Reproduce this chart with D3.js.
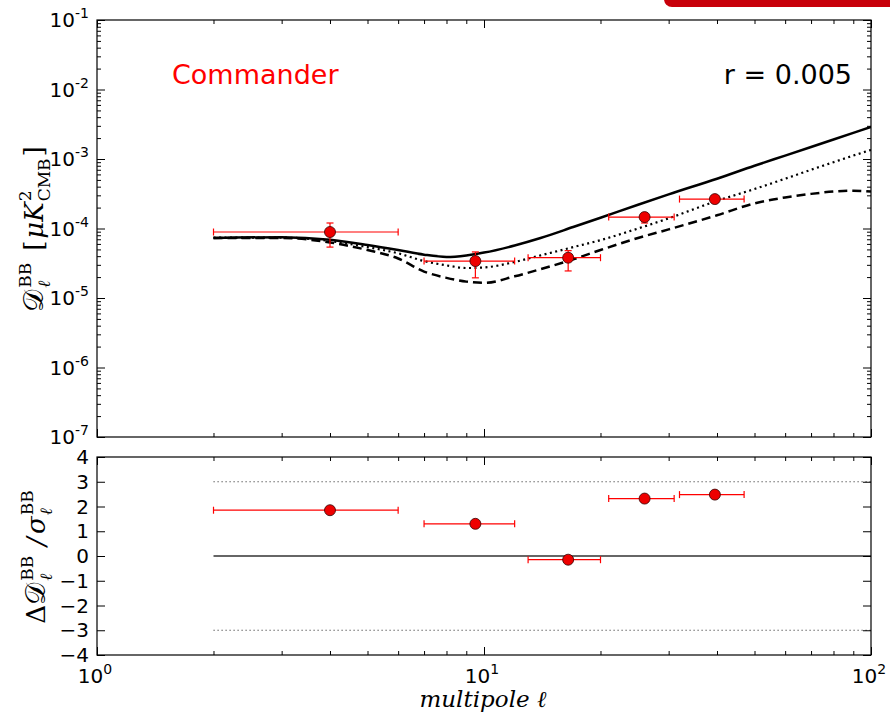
<!DOCTYPE html>
<html><head><meta charset="utf-8">
<script src="https://cdn.jsdelivr.net/npm/d3@7/dist/d3.min.js"></script>
<style>body{margin:0;background:#fff}svg{display:block}</style>
</head><body>
<svg id="chart" width="890" height="717"></svg>
<script>
// ---- data ----
const ells      = [2,3,4,5,6,7,8,9,10,12,14,17,20,25,30,40,50,60,70,80,90,100];
const totalBB   = [7.3e-5,7.5e-5,6.9e-5,5.8e-5,4.9e-5,4.2e-5,3.9e-5,4.1e-5,4.5e-5,5.7e-5,7.3e-5,1.05e-4,1.43e-4,2.2e-4,3.1e-4,5.2e-4,8.0e-4,1.12e-3,1.49e-3,1.91e-3,2.38e-3,2.9e-3];
const lensBB    = [7.4e-5,7.4e-5,6.6e-5,5.4e-5,4.4e-5,3.4e-5,2.95e-5,2.7e-5,2.75e-5,3.3e-5,4.1e-5,5.4e-5,6.8e-5,1.0e-4,1.4e-4,2.5e-4,3.7e-4,5.2e-4,7.0e-4,9.0e-4,1.12e-3,1.35e-3];
const tensorBB  = [7.3e-5,7.3e-5,6.3e-5,4.9e-5,3.7e-5,2.4e-5,1.95e-5,1.72e-5,1.65e-5,2.05e-5,2.6e-5,3.6e-5,4.9e-5,7.3e-5,9.7e-5,1.55e-4,2.3e-4,2.8e-4,3.15e-4,3.4e-4,3.5e-4,3.4e-4];
const binCenter = [4,9.5,16.5,26,39.5];
const binLo     = [2,7,13,21,32];
const binHi     = [6,12,20,31,47];
const dBB       = [8.9e-5,3.4e-5,3.8e-5,1.46e-4,2.65e-4];
const dBBlo     = [5.4e-5,1.95e-5,2.45e-5,1.2e-4,2.4e-4];
const dBBhi     = [1.2e-4,4.6e-5,4.8e-5,1.66e-4,2.9e-4];
const resid     = [1.85,1.3,-0.15,2.32,2.48];
const yMajor    = [1e-7,1e-6,1e-5,1e-4,1e-3,1e-2,1e-1];
const yMajorExp = ["-7","-6","-5","-4","-3","-2","-1"];
const xMajor    = [1,10,100];
const xMajorExp = ["0","1","2"];
const rTicks    = [-4,-3,-2,-1,0,1,2,3,4];

// ---- layout ----
const L=97, R=871, T1=20, B1=437, T2=457, B2=655;
const svg=d3.select("#chart");
const x=d3.scaleLog().domain([1,100]).range([L,R]);
const y1=d3.scaleLog().domain([1e-7,1e-1]).range([B1,T1]);
const y2=d3.scaleLinear().domain([-4,4]).range([B2,T2]);

// red bar artifact
svg.append("rect").attr("x",664).attr("y",-12).attr("width",250).attr("height",19).attr("rx",8).attr("fill","#c8000a");

const minorsLog=(a,b)=>{const m=[];for(let e=a;e<b;e++)for(let k=2;k<=9;k++)m.push(k*Math.pow(10,e));return m;};
const xMinor=minorsLog(0,2), yMinor=minorsLog(-7,-1);

function ticks(axisFn,scale,vals,size,tx,ty){
  svg.append("g").attr("transform",`translate(${tx},${ty})`)
    .call(axisFn(scale).tickValues(vals).tickSize(size).tickFormat(""))
    .call(g=>{g.select(".domain").remove();g.selectAll("line").attr("stroke","#000").attr("stroke-width",1);});
}
function panelTicks(ys,yMaj,yMin,top,bot){
  ticks(d3.axisBottom,x,xMajor,-8,0,bot); ticks(d3.axisBottom,x,xMinor,-4,0,bot);
  ticks(d3.axisTop,x,xMajor,-8,0,top); ticks(d3.axisTop,x,xMinor,-4,0,top);
  ticks(d3.axisLeft,ys,yMaj,-8,L,0); ticks(d3.axisRight,ys,yMaj,-8,R,0);
  if(yMin){ticks(d3.axisLeft,ys,yMin,-4,L,0); ticks(d3.axisRight,ys,yMin,-4,R,0);}
}

// ---- top panel ----
svg.append("clipPath").attr("id","c1").append("rect").attr("x",L).attr("y",T1).attr("width",R-L).attr("height",B1-T1);
const g1=svg.append("g").attr("clip-path","url(#c1)");
const line=d3.line().x((d,i)=>x(ells[i])).curve(d3.curveMonotoneX);
g1.append("path").attr("d",line.y(d=>y1(d))(totalBB)).attr("fill","none").attr("stroke","#000").attr("stroke-width",2.5);
g1.append("path").attr("d",line.y(d=>y1(d))(lensBB)).attr("fill","none").attr("stroke","#000").attr("stroke-width",2.2).attr("stroke-dasharray","2,3.5");
g1.append("path").attr("d",line.y(d=>y1(d))(tensorBB)).attr("fill","none").attr("stroke","#000").attr("stroke-width",2.5).attr("stroke-dasharray","9,5");

function errbars(g,ys,vals,lo,hi){
  const red="#ff0000";
  binCenter.forEach((c,i)=>{
    g.append("line").attr("x1",x(binLo[i])).attr("x2",x(binHi[i])).attr("y1",ys(vals[i])).attr("y2",ys(vals[i])).attr("stroke",red).attr("stroke-width",1.2);
    [binLo[i],binHi[i]].forEach(v=>g.append("line").attr("x1",x(v)).attr("x2",x(v)).attr("y1",ys(vals[i])-3.5).attr("y2",ys(vals[i])+3.5).attr("stroke",red).attr("stroke-width",1.2));
    if(lo){
      g.append("line").attr("x1",x(c)).attr("x2",x(c)).attr("y1",ys(lo[i])).attr("y2",ys(hi[i])).attr("stroke",red).attr("stroke-width",1.2);
      [lo[i],hi[i]].forEach(v=>g.append("line").attr("x1",x(c)-3.5).attr("x2",x(c)+3.5).attr("y1",ys(v)).attr("y2",ys(v)).attr("stroke",red).attr("stroke-width",1.2));
    }
  });
  binCenter.forEach((c,i)=>g.append("circle").attr("cx",x(c)).attr("cy",ys(vals[i])).attr("r",5.5).attr("fill","#ee0000").attr("stroke","#300").attr("stroke-width",0.8));
}
errbars(svg.append("g"),y1,dBB,dBBlo,dBBhi);

svg.append("rect").attr("x",L).attr("y",T1).attr("width",R-L).attr("height",B1-T1).attr("fill","none").attr("stroke","#000").attr("stroke-width",1.2);
panelTicks(y1,yMajor,yMinor,T1,B1);

const sans="DejaVu Sans, sans-serif";
yMajor.forEach((v,i)=>{
  const t=svg.append("text").attr("x",89).attr("y",y1(v)+7).attr("text-anchor","end").attr("font-family",sans).attr("font-size",20).attr("fill","#000");
  t.append("tspan").text("10");
  t.append("tspan").attr("font-size",14).attr("dy",-9).text(yMajorExp[i]);
});
svg.append("text").attr("x",172).attr("y",84).attr("font-family",sans).attr("font-size",27).attr("fill","#ff0000").text("Commander");
svg.append("text").attr("x",852).attr("y",84).attr("text-anchor","end").attr("font-family",sans).attr("font-size",27).attr("fill","#000").text("r = 0.005");

// ---- bottom panel ----
const g2=svg.append("g");
[3,-3].forEach(v=>g2.append("line").attr("x1",x(2)).attr("x2",x(100)).attr("y1",y2(v)).attr("y2",y2(v)).attr("stroke","#444").attr("stroke-width",1.2).attr("stroke-dasharray","1.2,2.8"));
g2.append("line").attr("x1",x(2)).attr("x2",x(100)).attr("y1",y2(0)).attr("y2",y2(0)).attr("stroke","#333").attr("stroke-width",1.6);
errbars(g2,y2,resid,null,null);
svg.append("rect").attr("x",L).attr("y",T2).attr("width",R-L).attr("height",B2-T2).attr("fill","none").attr("stroke","#000").attr("stroke-width",1.2);
panelTicks(y2,rTicks,null,T2,B2);
rTicks.forEach(v=>{
  svg.append("text").attr("x",89).attr("y",y2(v)+7).attr("text-anchor","end").attr("font-family",sans).attr("font-size",20).attr("fill","#000").text(v<0?"\u2212"+(-v):String(v));
});
xMajor.forEach((v,i)=>{
  const t=svg.append("text").attr("x",x(v)-2).attr("y",683).attr("text-anchor","middle").attr("font-family",sans).attr("font-size",20).attr("fill","#000");
  t.append("tspan").text("10");
  t.append("tspan").attr("font-size",14).attr("dy",-9).text(xMajorExp[i]);
});

// ---- math labels ----
const serif="DejaVu Serif, Liberation Serif, serif";
function mathLabel(cx,cy,rot,parts){
  const g=svg.append("g");
  let xpos=0, prevStart=0, prevW=0;
  parts.forEach(p=>{
    const t=g.append("text").attr("font-family",p.font||serif).attr("font-size",p.size).attr("font-style",p.italic?"italic":"normal").attr("fill","#000").attr("y",p.dy||0).text(p.t);
    const start = (p.stack ? prevStart : xpos) + (p.pre||0);
    t.attr("x",start);
    const w=t.node().getComputedTextLength();
    if(p.stack){ xpos=Math.max(prevStart+prevW,start+w)+(p.gap||0); }
    else { prevStart=start; prevW=w; xpos=start+w+(p.gap||0); }
  });
  const total=xpos;
  g.selectAll("text").each(function(){const s=d3.select(this);s.attr("x",+s.attr("x")-total/2);});
  g.attr("transform",`translate(${cx},${cy}) rotate(${rot})`);
  return g;
}
const big=26, sm=17;
mathLabel(43,229,-90,[
  {t:"\uD835\uDC9F",size:big+2},
  {t:"BB",size:sm,dy:-12,pre:2},
  {t:"\u2113",size:sm,dy:7,italic:true,stack:true,gap:12},
  {t:"[",size:big,gap:2},
  {t:"\u03BC",size:big,italic:true},
  {t:"K",size:big,italic:true,gap:1},
  {t:"2",size:sm,dy:-12},
  {t:"CMB",size:sm,dy:7,stack:true,gap:2},
  {t:"]",size:big}
]);
mathLabel(45,557,-90,[
  {t:"\u0394",size:big},
  {t:"\uD835\uDC9F",size:big+2},
  {t:"BB",size:sm,dy:-12,pre:2},
  {t:"\u2113",size:sm,dy:7,italic:true,stack:true,gap:10},
  {t:"/",size:big,italic:true,gap:3},
  {t:"\u03C3",size:big,italic:true},
  {t:"BB",size:sm,dy:-12,pre:1},
  {t:"\u2113",size:sm,dy:7,italic:true,stack:true}
]);
svg.append("text").attr("x",483).attr("y",707).attr("text-anchor","middle").attr("font-family",serif).attr("font-style","italic").attr("font-size",23).attr("fill","#000").text("multipole \u2113");
</script>
</body></html>
